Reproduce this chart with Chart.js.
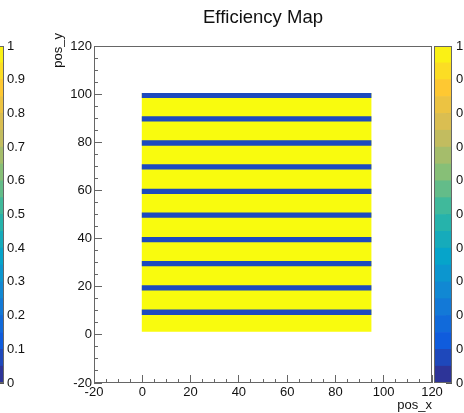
<!DOCTYPE html>
<html>
<head>
<meta charset="utf-8">
<script src="https://cdn.jsdelivr.net/npm/chart.js@4/dist/chart.umd.min.js"></script>
<style>
  html, body { margin: 0; padding: 0; background: #fff; overflow: hidden; }
  #wrap { position: relative; width: 464px; height: 413px; overflow: hidden; }
  canvas { position: absolute; top: 0; }
  #zLeft { left: -20px; }
  #map { left: 0; }
  #zRight { left: 434px; }
</style>
</head>
<body>
<div id="wrap">
  <canvas id="zLeft" width="60" height="413"></canvas>
  <canvas id="map" width="464" height="413"></canvas>
  <canvas id="zRight" width="30" height="413"></canvas>
</div>
<script>
// sensor area (pos_x / pos_y units)
const sensorX = [-0.3, 95];
const activeY = [1.3, 100.5];
const activeEff = 1.0;

// low-efficiency strips
const stripeLow = [8.3, 18.4, 28.5, 38.5, 48.6, 58.5, 68.7, 78.6, 88.6, 98.4];
const stripeHigh = [10.5, 20.6, 30.7, 40.7, 50.8, 60.7, 70.9, 80.8, 90.8, 100.5];
const stripeEff = [0.08, 0.08, 0.08, 0.08, 0.08, 0.08, 0.08, 0.08, 0.08, 0.08];

// colour scale edges
const zLevels = [0, 0.05, 0.1, 0.15, 0.2, 0.25, 0.3, 0.35, 0.4, 0.45, 0.5,
                 0.55, 0.6, 0.65, 0.7, 0.75, 0.8, 0.85, 0.9, 0.95, 1];

const FONT = "'Liberation Sans', Arial, Helvetica, sans-serif";
const AXIS_COLOR = "#666";

// ROOT kBird palette
const birdStops = [0.0, 0.125, 0.25, 0.375, 0.5, 0.625, 0.75, 0.875, 1.0];
const birdR = [0.2082, 0.0592, 0.0780, 0.0232, 0.1802, 0.5301, 0.8186, 0.9956, 0.9764];
const birdG = [0.1664, 0.3599, 0.5041, 0.6419, 0.7178, 0.7492, 0.7328, 0.7862, 0.9832];
const birdB = [0.5293, 0.8684, 0.8385, 0.7914, 0.6425, 0.4662, 0.3499, 0.1968, 0.0539];

function effColor(v) {
  let i = 0;
  while (i < birdStops.length - 2 && v > birdStops[i + 1]) i++;
  const f = (v - birdStops[i]) / (birdStops[i + 1] - birdStops[i]);
  const mix = (a) => Math.round(255 * (a[i] + f * (a[i + 1] - a[i])));
  return `rgb(${mix(birdR)}, ${mix(birdG)}, ${mix(birdB)})`;
}

const framePlugin = {
  id: "frame",
  afterDraw(chart) {
    const { ctx, chartArea: a } = chart;
    ctx.save();
    ctx.strokeStyle = AXIS_COLOR;
    ctx.lineWidth = 1;
    ctx.strokeRect(Math.round(a.left) + 0.5, Math.round(a.top) + 0.5,
                   Math.round(a.right - a.left) - 1, Math.round(a.bottom - a.top) - 1);
    ctx.restore();
  },
};

// ROOT puts the y title at the top end of the axis, a bit above the frame
const yTitlePlugin = {
  id: "yTitle",
  afterDraw(chart) {
    const { ctx, chartArea: a } = chart;
    ctx.save();
    ctx.translate(a.left - 36, a.top - 13);
    ctx.rotate(-Math.PI / 2);
    ctx.font = `13px ${FONT}`;
    ctx.fillStyle = "#111";
    ctx.textAlign = "right";
    ctx.textBaseline = "middle";
    ctx.fillText("pos_y", 0, 0);
    ctx.restore();
  },
};

function band(lo, hi, eff, order) {
  return {
    data: [{ x: sensorX[0], y: hi }, { x: sensorX[1], y: hi }],
    fill: { value: lo },
    backgroundColor: effColor(eff),
    borderWidth: 0,
    pointRadius: 0,
    order,
  };
}

function makeMap() {
  const datasets = stripeLow.map((lo, i) => band(lo, stripeHigh[i], stripeEff[i], 0));
  datasets.push(band(activeY[0], activeY[1], activeEff, 1));

  const tickFont = { family: FONT, size: 13 };
  const major = (pos, weight, extra) => Object.assign({
    type: "linear", position: pos, min: -20, max: 120, weight,
    ticks: { stepSize: 20, padding: 10, font: tickFont, color: "#111", autoSkip: false, maxRotation: 0 },
    grid: { drawOnChartArea: false, tickLength: -8, color: AXIS_COLOR },
    border: { display: false },
  }, extra);
  const minor = (pos, fit) => ({
    type: "linear", position: pos, min: -20, max: 120, weight: 0,
    ticks: { display: false, stepSize: 5 },
    grid: { drawOnChartArea: false, tickLength: -4, color: AXIS_COLOR },
    border: { display: false },
    afterFit: fit,
  });

  new Chart(document.getElementById("map"), {
    type: "line",
    data: { datasets },
    options: {
      responsive: false,
      animation: false,
      devicePixelRatio: 1,
      layout: { padding: { left: 0, right: 32, top: 0, bottom: 0 } },
      plugins: {
        legend: { display: false },
        tooltip: { enabled: false },
        title: {
          display: true,
          text: "Efficiency Map",
          fullSize: false,
          color: "#111",
          font: { family: FONT, size: 18.5, weight: "normal" },
          padding: { top: 7, bottom: 16.8 },
        },
      },
      scales: {
        x: major("bottom", 1, {
          title: { display: true, text: "pos_x", align: "end", color: "#111",
                   font: { family: FONT, size: 13 }, padding: 0 },
          afterFit: (s) => { s.height = 30; },
        }),
        xm: minor("bottom", (s) => { s.height = 0; }),
        y: major("left", 1, { afterFit: (s) => { s.width = 94; } }),
        ym: minor("left", (s) => { s.width = 0; }),
      },
    },
    plugins: [framePlugin, yTitlePlugin],
  });
}

function makeColorbar(id, barLeft, scaleWidth, labelPad) {
  const datasets = zLevels.slice(0, -1).map((lo, i) => ({
    data: [[lo, zLevels[i + 1]]],
    backgroundColor: effColor((lo + zLevels[i + 1]) / 2),
    borderWidth: 0,
    barPercentage: 1,
    categoryPercentage: 1,
    grouped: false,
  }));
  new Chart(document.getElementById(id), {
    type: "bar",
    data: { labels: ["z"], datasets },
    options: {
      responsive: false,
      animation: false,
      devicePixelRatio: 1,
      layout: { padding: { left: barLeft, right: 0, top: 46, bottom: 30 } },
      plugins: { legend: { display: false }, tooltip: { enabled: false } },
      scales: {
        x: { display: false },
        y: {
          position: "right", min: 0, max: 1,
          ticks: {
            stepSize: 0.1, padding: labelPad, font: { family: FONT, size: 13 }, color: "#111", autoSkip: false,
            callback: (v) => String(Math.round(v * 10) / 10),
          },
          grid: { drawOnChartArea: false, tickLength: -6, color: "#555" },
          border: { display: false },
          afterFit: (s) => { s.width = scaleWidth; },
        },
      },
    },
    plugins: [framePlugin],
  });
}

makeColorbar("zLeft", 6, 36, 9);
makeMap();
makeColorbar("zRight", 0, 12, 10);
</script>
</body>
</html>
